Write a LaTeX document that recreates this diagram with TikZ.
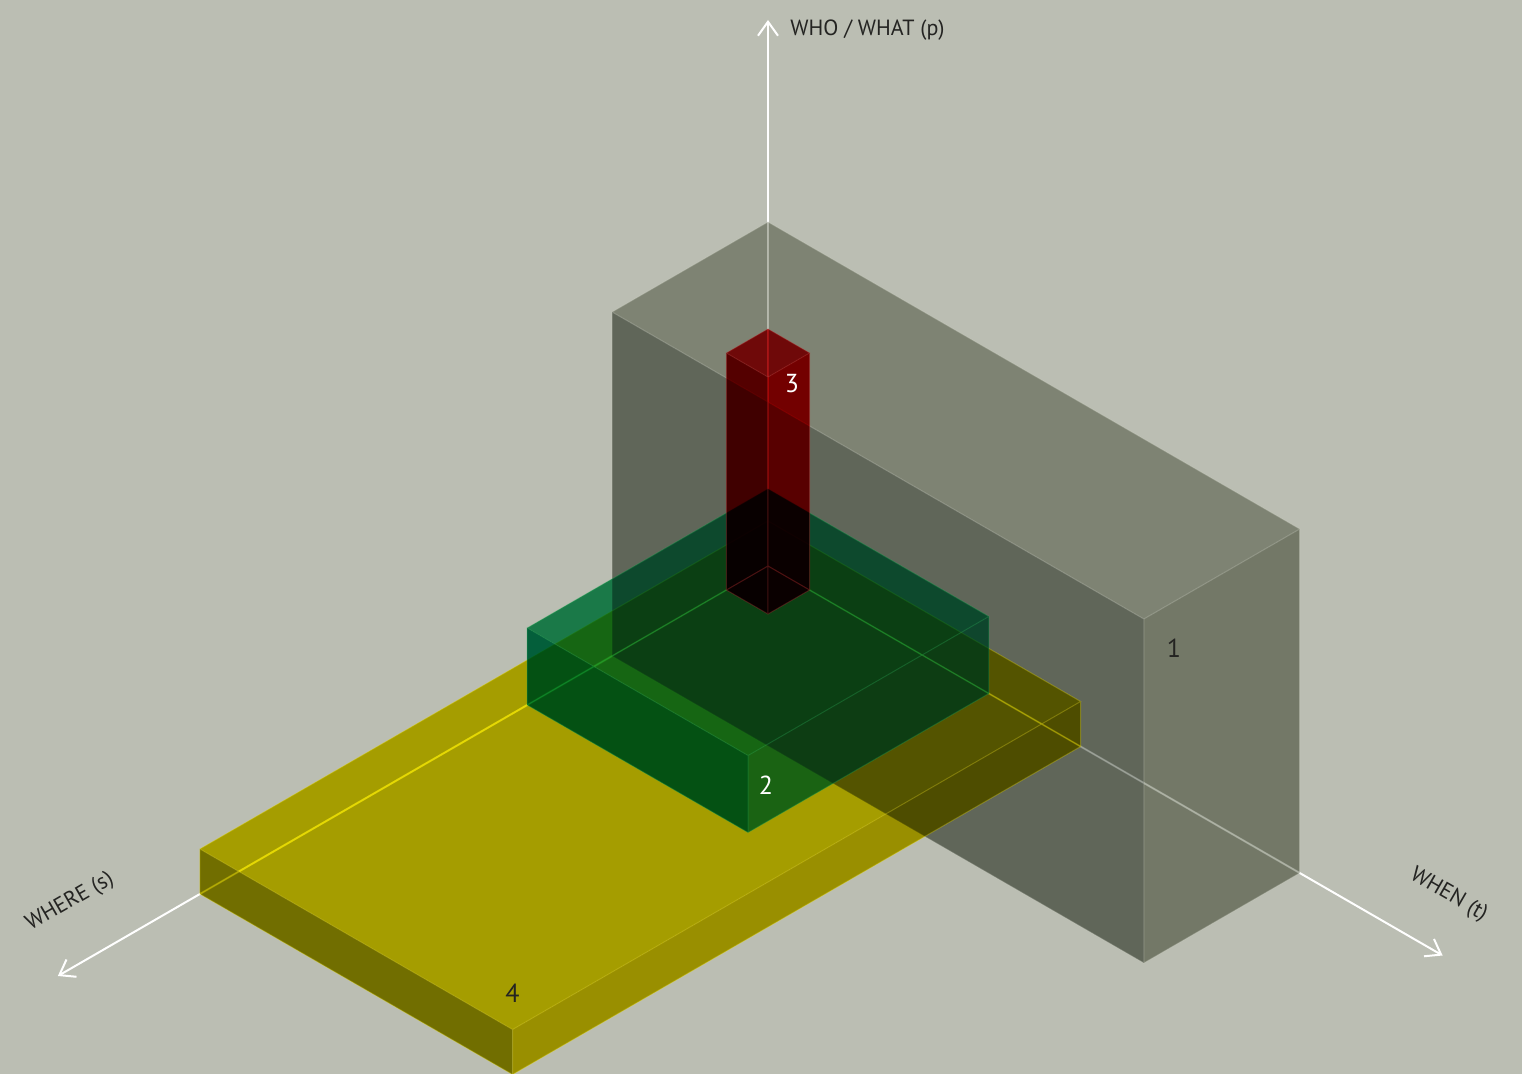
\documentclass[tikz,border=0pt]{standalone}
\usepackage{fontspec}
\setmainfont{PT Sans}
\usetikzlibrary{arrows.meta}

\definecolor{backdrop}{RGB}{187,190,179}
\definecolor{labelgrey}{RGB}{36,36,34}
\definecolor{greytop}{RGB}{173,176,164}
\definecolor{greyleft}{RGB}{131,137,128}
\definecolor{greyright}{RGB}{157,162,148}
\definecolor{yellowtop}{RGB}{225,212,0}
\definecolor{yellowleft}{RGB}{155,148,0}
\definecolor{yellowright}{RGB}{209,193,0}
\definecolor{greentop}{RGB}{43,164,91}
\definecolor{greenleft}{RGB}{8,123,68}
\definecolor{greenright}{RGB}{49,156,89}
\definecolor{greentint}{RGB}{0,120,130}
\definecolor{redtop}{RGB}{225,19,22}
\definecolor{redleft}{RGB}{170,0,0}
\definecolor{redright}{RGB}{234,0,0}
\definecolor{greyedge}{RGB}{215,218,205}
\definecolor{yellowedge}{RGB}{240,228,20}
\definecolor{greenedge}{RGB}{40,180,90}
\definecolor{rededge}{RGB}{200,60,60}

\tikzstyle{axis} = [
    draw=white,
    line width=1pt,
    -{Straight Barb[length=7pt,width=10pt]}
]
\tikzstyle{axislabel} = [
    inner sep=0pt,
    text=labelgrey,
    font=\fontsize{11}{13}\selectfont
]
\tikzstyle{boxnum} = [
    inner sep=0pt,
    font=\fontsize{13}{15}\selectfont
]
\tikzstyle{boxedge} = [
    line width=0.5pt,
    draw opacity=0.3
]

% one box from the origin: [tint], s, t, p, top, s-face, t-face, edge colour
\newcommand{\isobox}[8][fill opacity=0]{%
  \begin{scope}[blend mode=multiply]
    \fill[#5] (0,0,#4) -- (#2,0,#4) -- (#2,#3,#4) -- (0,#3,#4) -- cycle;
    \fill[#6] (#2,0,0) -- (#2,#3,0) -- (#2,#3,#4) -- (#2,0,#4) -- cycle;
    \fill[#7] (0,#3,0) -- (#2,#3,0) -- (#2,#3,#4) -- (0,#3,#4) -- cycle;
  \end{scope}
  \fill[#1] (0,0,#4) -- (#2,0,#4) -- (#2,0,0) -- (#2,#3,0) -- (0,#3,0) -- (0,#3,#4) -- cycle;
  \draw[boxedge, draw=#8]
    (0,0,0) -- (#2,0,0) -- (#2,#3,0) -- (0,#3,0) -- cycle
    (0,0,#4) -- (#2,0,#4) -- (#2,#3,#4) -- (0,#3,#4) -- cycle
    (0,0,0) -- (0,0,#4) (#2,0,0) -- (#2,0,#4)
    (#2,#3,0) -- (#2,#3,#4) (0,#3,0) -- (0,#3,#4);
}

\begin{document}
\begin{tikzpicture}[x={(-0.433pt,-0.25pt)}, y={(0.433pt,-0.25pt)}, z={(0pt,0.5pt)}]

\path[use as bounding box, fill=backdrop] (-384pt,-254pt) rectangle (377pt,283pt);

% axes
\coordinate (origin) at (0,0,0);
\coordinate (pend) at (0,0,546);
\coordinate (send) at (820,0,0);
\coordinate (tend) at (0,779,0);

\draw [axis] (origin) -- (pend);
\draw [axis] (origin) -- (send);
\draw [axis] (origin) -- (tend);

\node (who) [axislabel, anchor=base west] at ([shift={(11pt,-8pt)}]pend) {WHO / WHAT (p)};
\node (where) [axislabel, rotate=30] at (739,-67,0) {WHERE (s)};
\node (when) [axislabel, rotate=-30] at (-64,722,0) {WHEN (t)};

% boxes
\isobox{180}{614}{344}{greytop}{greyleft}{greyright}{greyedge}
\isobox{656}{361}{45}{yellowtop}{yellowleft}{yellowright}{yellowedge}
\isobox[greentint, fill opacity=0.15]{278}{255}{77}{greentop}{greenleft}{greenright}{greenedge}
\isobox{48}{48}{237}{redtop}{redleft}{redright}{rededge}

\coordinate (greycorner) at (180,614,344);
\coordinate (greencorner) at (278,255,77);
\coordinate (redcorner) at (48,48,237);
\coordinate (yellowcorner) at (656,361,45);

\node (one) [boxnum, text=labelgrey] at ([shift={(15pt,-14.5pt)}]greycorner) {1};
\node (two) [boxnum, text=white] at ([shift={(9pt,-15pt)}]greencorner) {2};
\node (three) [boxnum, text=white] at ([shift={(12pt,-3.5pt)}]redcorner) {3};
\node (four) [boxnum, text=labelgrey] at ([shift={(0pt,18pt)}]yellowcorner) {4};

\end{tikzpicture}
\end{document}
